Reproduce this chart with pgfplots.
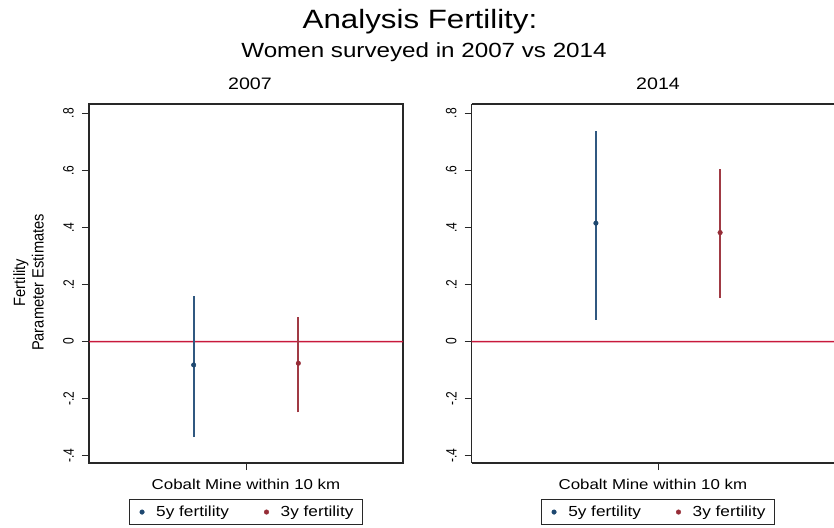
\documentclass[border=0pt]{standalone}
\usepackage{fontspec}
\setmainfont{Liberation Sans}[FakeStretch=1.18]
\newfontfamily\rotfont{Liberation Sans}[FakeStretch=0.8]
\newfontfamily\ylabfont{Liberation Sans}[FakeStretch=0.9]
\usepackage{pgfplots}
\pgfplotsset{compat=1.18}
\definecolor{serA}{RGB}{30,72,112}
\definecolor{serB}{RGB}{150,45,55}
\definecolor{lineA}{RGB}{48,88,128}
\definecolor{lineB}{RGB}{160,58,68}
\definecolor{zeroline}{RGB}{200,25,60}
\definecolor{axcol}{RGB}{40,40,40}
\pgfplotsset{
  panel/.style={
    scale only axis, height=359pt,
    ymin=-0.4256, ymax=0.8326, xmin=-1.5,
    ytick={-0.4,-0.2,0,0.2,0.4,0.6,0.8}, yticklabels={-.4,-.2,0,.2,.4,.6,.8},
    xtick={0}, xticklabels={},
    tick pos=left, tick align=outside, major tick length=7pt,
    axis line style={line width=1.4pt, axcol},
    every tick/.append style={line width=1pt, axcol},
    yticklabel style={rotate=90, anchor=south, inner sep=0pt, font=\rotfont\fontsize{15}{15}\selectfont, yshift=8pt},
    xlabel={Cobalt Mine within 10 km},
    legend columns=2,
    legend style={anchor=north, yshift=-36pt, draw=axcol, line width=1pt, inner xsep=7pt, inner ysep=4.5pt, font=\fontsize{14.6}{16}\selectfont, /tikz/every even column/.append style={column sep=30pt}},
    legend image code/.code={\path (0pt,0pt) (16.7pt,0pt); \draw[##1] plot coordinates {(5pt,0pt)};},
  },
  labs/.style={
    xlabel style={at={(axis description cs:0.5,0)}, anchor=base, yshift=-26.3pt, font=\fontsize{14.3}{16}\selectfont},
    title style={anchor=base, yshift=8.3pt, font=\fontsize{16.6}{18}\selectfont},
  },
  pt/.style={only marks, mark=*, mark size=2.3pt, mark options={line width=0.4pt}},
  zband/.style={fill=zeroline, draw=none, forget plot},
}
\begin{document}
\begin{tikzpicture}
\path[use as bounding box] (0,0) rectangle (834pt,527pt);
\node[anchor=base, font=\fontsize{26.5}{30}\selectfont] at (420pt,498.7pt) {Analysis Fertility:};
\node[anchor=base, font=\fontsize{20.5}{24}\selectfont] at (424pt,469.7pt) {Women surveyed in 2007 vs 2014};
\node[rotate=90, align=center, font=\ylabfont\fontsize{16.3}{18.4}\selectfont] at (28.5pt,244.5pt) {Fertility\\Parameter Estimates};
% 2007 panel
\begin{axis}[panel, width=314pt, xmax=1.5, at={(89pt,64pt)}, anchor=south west, title={2007}, labs,
  title style={at={(axis description cs:0.5,1)}, xshift=4pt},
  legend style={at={(axis description cs:0.5,0)}}]
\addplot[zband] coordinates {(-1.5,-0.0028) (1.5,-0.0028) (1.5,0.0028) (-1.5,0.0028) (-1.5,-0.0028)};
\addplot[color=lineA, line width=1.7pt, forget plot] coordinates {(-0.5,-0.335) (-0.5,0.160)};
\addplot[color=lineB, line width=1.7pt, forget plot] coordinates {(0.5,-0.248) (0.5,0.087)};
\addplot[pt, color=serA] coordinates {(-0.5,-0.082)};
\addplot[pt, color=serB] coordinates {(0.5,-0.076)};
\legend{5y fertility, 3y fertility}
\end{axis}
% 2014 panel (cut at the right edge of the picture)
\begin{axis}[panel, width=362.3pt, xmax=1.417, at={(471.7pt,64pt)}, anchor=south west, title={2014},
  axis x line=box, axis y line*=left, labs,
  title style={at={(axis cs:0,0.8326)}},
  legend style={at={(axis cs:0,-0.4256)}}]
\addplot[zband] coordinates {(-1.5,-0.0028) (1.417,-0.0028) (1.417,0.0028) (-1.5,0.0028) (-1.5,-0.0028)};
\addplot[color=lineA, line width=1.7pt, forget plot] coordinates {(-0.5,0.076) (-0.5,0.739)};
\addplot[color=lineB, line width=1.7pt, forget plot] coordinates {(0.5,0.152) (0.5,0.604)};
\addplot[pt, color=serA] coordinates {(-0.5,0.415)};
\addplot[pt, color=serB] coordinates {(0.5,0.382)};
\legend{5y fertility, 3y fertility}
\end{axis}
\end{tikzpicture}
\end{document}
